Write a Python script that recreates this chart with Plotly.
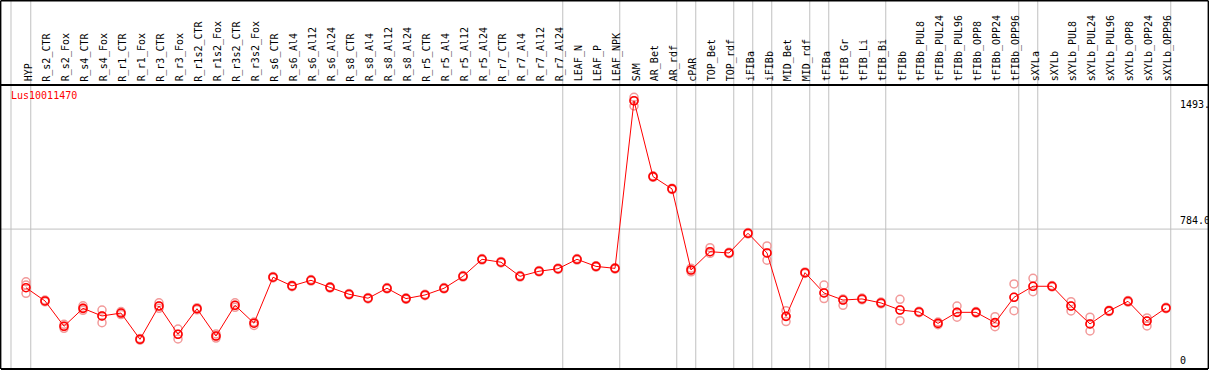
import plotly.graph_objects as go

categories = ["HYP", "R_s2_CTR", "R_s2_Fox", "R_s4_CTR", "R_s4_Fox", "R_r1_CTR", "R_r1_Fox",
              "R_r3_CTR", "R_r3_Fox", "R_r1s2_CTR", "R_r1s2_Fox", "R_r3s2_CTR", "R_r3s2_Fox",
              "R_s6_CTR", "R_s6_Al4", "R_s6_Al12", "R_s6_Al24", "R_s8_CTR", "R_s8_Al4",
              "R_s8_Al12", "R_s8_Al24", "R_r5_CTR", "R_r5_Al4", "R_r5_Al12", "R_r5_Al24",
              "R_r7_CTR", "R_r7_Al4", "R_r7_Al12", "R_r7_Al24", "LEAF_N", "LEAF_P", "LEAF_NPK",
              "SAM", "AR_Bet", "AR_rdf", "cPAR", "TOP_Bet", "TOP_rdf", "iFIBa", "iFIBb",
              "MID_Bet", "MID_rdf", "tFIBa", "tFIB_Gr", "tFIB_Li", "tFIB_Bi", "tFIBb",
              "tFIBb_PUL8", "tFIBb_PUL24", "tFIBb_PUL96", "tFIBb_OPP8", "tFIBb_OPP24",
              "tFIBb_OPP96", "sXYLa", "sXYLb", "sXYLb_PUL8", "sXYLb_PUL24", "sXYLb_PUL96",
              "sXYLb_OPP8", "sXYLb_OPP24", "sXYLb_OPP96"]

mean_values = [460, 387, 247, 346, 304, 320, 175, 359, 203, 344, 193, 363, 264,
               518, 470, 501, 462, 424, 402, 457, 400, 420, 457, 523, 617,
               601, 523, 551, 565, 617, 578, 567,
               1493, 1074, 1006, 558, 659, 652, 761, 652, 302, 543,
               431, 392, 398, 376, 337, 326, 263, 324, 324, 267, 407,
               468, 468, 359, 260, 332, 385, 276, 348]

rep_high = [493, 392, 258, 360, 337, 328, 180, 377, 232, 350, 205, 377, 270,
            522, 474, 505, 466, 428, 406, 461, 404, 424, 461, 527, 621,
            605, 527, 555, 569, 621, 582, 571,
            1512, 1078, 1010, 568, 681, 656, 765, 691, 333, 547,
            475, 398, 403, 381, 396, 330, 270, 359, 328, 300, 481,
            512, 472, 383, 297, 336, 390, 293, 352]

rep_low = [429, 382, 236, 335, 267, 312, 170, 346, 177, 338, 182, 352, 252,
           514, 466, 497, 458, 420, 398, 453, 396, 416, 453, 519, 613,
           597, 519, 547, 561, 613, 574, 563,
           1464, 1070, 1002, 548, 650, 648, 757, 612, 273, 539,
           400, 363, 393, 371, 278, 322, 256, 297, 320, 245, 333,
           438, 464, 332, 221, 328, 380, 249, 344]

rep_mid = [475, 387, 247, 346, 304, 320, 175, 359, 203, 344, 193, 363, 264,
           518, 470, 501, 462, 424, 402, 457, 400, 420, 457, 523, 617,
           601, 523, 551, 565, 617, 578, 567,
           1493, 1074, 1006, 558, 659, 652, 761, 652, 302, 543,
           431, 392, 398, 376, 337, 326, 263, 324, 324, 267, 407,
           468, 468, 359, 260, 332, 385, 276, 348]

group_ends = [0, 28, 31, 34, 35, 37, 38, 39, 41, 42, 45, 52, 53, 60]
left_separator = -0.79

tick_values = [1493, 784.0, 0]
tick_labels = ["1493.", "784.0", "0"]
gene = "Lus10011470"

x_idx = list(range(len(categories)))

fig = go.Figure()

for reps in (rep_high, rep_mid, rep_low):
    fig.add_trace(go.Scatter(
        x=x_idx, y=reps, mode="markers",
        marker=dict(symbol="circle-open", size=8, color="#f29a9a", line=dict(width=1.5)),
        showlegend=False, hoverinfo="skip"))

fig.add_trace(go.Scatter(
    x=x_idx, y=mean_values, mode="lines+markers",
    line=dict(color="#ff0000", width=1),
    marker=dict(symbol="circle-open", size=8, color="#ff0000", line=dict(width=1.6)),
    showlegend=False))

TOP = 1.2975  # paper y of figure top

shapes = []
for xv in [left_separator] + [g + 0.25 for g in group_ends]:
    shapes.append(dict(type="line", xref="x", yref="paper", x0=xv, x1=xv, y0=0, y1=TOP,
                       line=dict(color="#c0c0c0", width=1), layer="below"))
shapes.append(dict(type="line", xref="paper", yref="y", x0=0, x1=1, y0=tick_values[1], y1=tick_values[1],
                   line=dict(color="#c0c0c0", width=1), layer="below"))
shapes.append(dict(type="line", xref="paper", yref="paper", x0=0, x1=1, y0=1, y1=1,
                   line=dict(color="black", width=2)))
shapes.append(dict(type="line", xref="paper", yref="paper", x0=0, x1=1, y0=TOP, y1=TOP,
                   line=dict(color="black", width=2)))
shapes.append(dict(type="line", xref="paper", yref="paper", x0=0, x1=1, y0=0, y1=0,
                   line=dict(color="black", width=2)))
shapes.append(dict(type="line", xref="paper", yref="paper", x0=-0.0005, x1=-0.0005, y0=0, y1=TOP,
                   line=dict(color="black", width=2)))
shapes.append(dict(type="line", xref="paper", yref="paper", x0=1.0005, x1=1.0005, y0=0, y1=TOP,
                   line=dict(color="black", width=2)))

annotations = []
for i, c in enumerate(categories):
    annotations.append(dict(x=i + 0.1, y=1.006, xref="x", yref="paper", text=c, textangle=-90,
                            showarrow=False, xanchor="center", yanchor="bottom",
                            font=dict(family="DejaVu Sans Mono", size=10, color="black")))

annotations.append(dict(x=0.0065, y=0.963, xref="paper", yref="paper", text=gene, showarrow=False,
                        xanchor="left", yanchor="middle",
                        font=dict(family="DejaVu Sans Mono", size=10, color="#ff0000")))

label_pos = [0.905, 0.495, 0.005]
for tv, tl, py in zip(tick_values, tick_labels, label_pos):
    annotations.append(dict(x=0.9755, y=py, xref="paper", yref="paper", text=tl, showarrow=False,
                            xanchor="left", yanchor="bottom",
                            font=dict(family="DejaVu Sans Mono", size=10, color="black")))

fig.update_layout(
    width=1209, height=370,
    margin=dict(l=1, r=1, t=85, b=1, pad=0),
    paper_bgcolor="white", plot_bgcolor="white",
    xaxis=dict(range=[-1.316, 62.21], showgrid=False, zeroline=False, showticklabels=False,
               ticks="", showline=False),
    yaxis=dict(range=[11, 1580], showgrid=False, zeroline=False, showticklabels=False,
               ticks="", showline=False),
    shapes=shapes, annotations=annotations,
)

fig.write_html("out.html", config={"displayModeBar": False},
               post_script="document.body.style.margin='0px';document.body.style.overflow='hidden';")
